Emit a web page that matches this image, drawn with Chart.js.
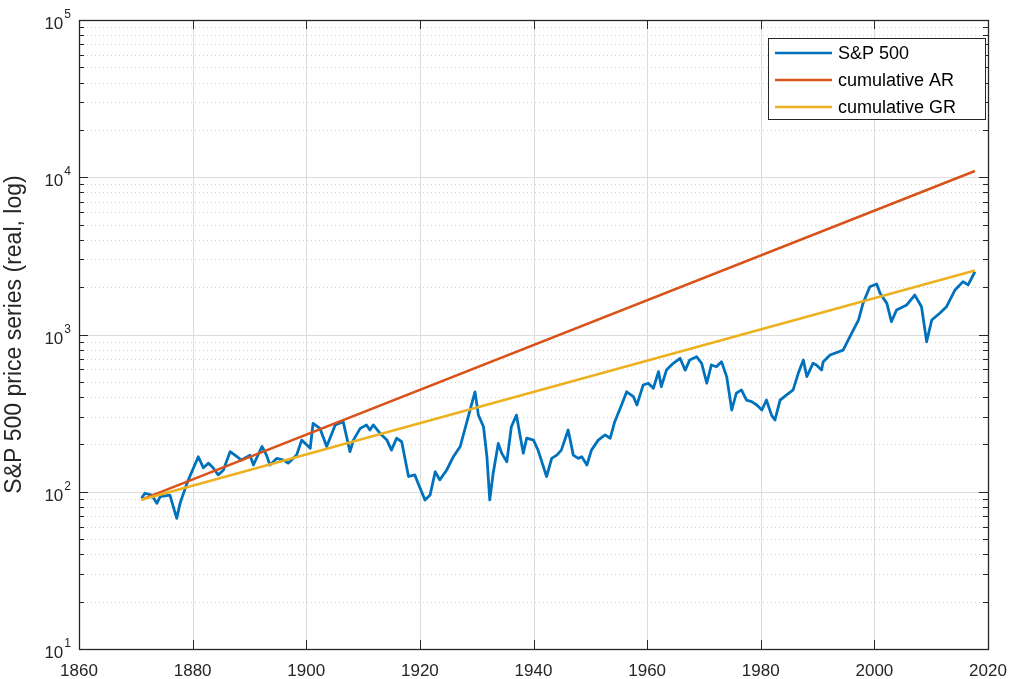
<!DOCTYPE html>
<html>
<head>
<meta charset="utf-8">
<script src="https://cdn.jsdelivr.net/npm/chart.js@4/dist/chart.umd.min.js"></script>
<style>
  body { margin: 0; background: #fff; }
  #wrap { width: 1009px; height: 679px; }
</style>
</head>
<body>
<div id="wrap"><canvas id="spChart"></canvas></div>
<script>
// S&P 500 real price index
const years = [1871.0,1871.6,1872.8,1873.7,1874.3,1876.0,1877.2,1877.8,1879.0,1879.5,
  1881.0,1881.9,1882.8,1883.6,1884.5,1885.4,1886.6,1887.8,1888.6,1890.1,
  1890.7,1892.2,1893.0,1893.6,1894.8,1896.0,1896.8,1898.3,1899.2,1900.7,
  1901.2,1902.4,1903.6,1905.1,1906.5,1907.7,1908.3,1909.5,1910.6,1911.2,
  1911.8,1913.0,1914.2,1915.0,1915.9,1916.8,1918.0,1919.1,1919.7,1920.9,
  1921.8,1922.7,1923.5,1924.7,1925.9,1927.1,1928.2,1929.7,1930.3,1931.2,
  1931.8,1932.3,1932.9,1933.8,1934.4,1935.3,1936.1,1937.0,1938.2,1938.8,
  1940.0,1940.8,1942.3,1943.2,1944.1,1944.9,1946.1,1946.7,1947.0,1947.9,
  1948.5,1949.4,1950.2,1951.4,1952.6,1953.5,1954.3,1955.5,1956.4,1957.6,
  1958.2,1959.3,1960.2,1961.1,1962.0,1962.5,1963.4,1964.6,1965.8,1966.7,
  1967.5,1968.7,1969.6,1970.5,1971.3,1972.2,1973.1,1974.0,1974.9,1975.7,
  1976.6,1977.5,1978.4,1979.3,1980.2,1981.0,1981.9,1982.5,1983.4,1984.5,
  1985.7,1986.6,1987.5,1988.1,1989.2,1989.8,1990.7,1991.0,1992.2,1994.5,
  1995.7,1997.2,1998.0,1999.2,2000.4,2001.0,2002.2,2003.0,2003.9,2005.7,
  2007.1,2008.3,2009.2,2010.1,2011.5,2012.7,2014.2,2015.6,2016.5,2017.7];
const spx = [90.8,97.8,95.3,84.5,93.1,95.3,67.7,84.7,113,125,
  167,142,152,142,128,137,180,167,159,171,
  148,194,171,148,163,159,152,171,213,189,
  272,253,194,266,279,180,213,253,266,247,
  266,235,213,184,219,208,125,128,113,88.7,
  95.3,134,119,137,167,194,272,432,307,259,
  167,88.7,131,203,176,155,259,307,176,219,
  213,184,125,163,171,184,247,194,171,163,
  167,148,184,213,230,219,279,356,432,402,
  356,477,490,455,581,466,594,656,706,594,
  689,723,656,490,640,624,672,540,331,423,
  444,383,374,356,331,383,307,286,383,412,
  444,566,689,540,656,640,594,672,741,796,
  968,1236,1578,2014,2094,1828,1578,1205,1432,1542,
  1782,1503,900,1236,1365,1503,1919,2168,2066,2506];

// cumulative return lines (start / end)
const fitYears = [1871.0, 2017.7];
const arValues = [89, 10960];
const grValues = [89, 2550];

// axes
const xTicks = [1860, 1880, 1900, 1920, 1940, 1960, 1980, 2000, 2020];
const yTicks = [10, 100, 1000, 10000, 100000];
const yExponents = ['1', '2', '3', '4', '5'];
const seriesNames = ['S&P 500', 'cumulative AR', 'cumulative GR'];
const seriesColors = ['#0072BD', '#D95319', '#EDB120'];

const axisColor = '#262626';
const fontName = '"Liberation Sans", Arial, sans-serif';

function toPoints(xs, ys) {
  return xs.map((x, i) => ({ x: x, y: ys[i] }));
}

const matlabFrame = {
  id: 'matlabFrame',
  beforeDatasetsDraw(chart) {
    const { ctx, chartArea: a, scales: { x, y } } = chart;
    ctx.save();
    ctx.lineWidth = 1;
    // major grid
    ctx.strokeStyle = '#dcdcdc';
    xTicks.forEach(v => {
      const px = Math.round(x.getPixelForValue(v)) + 0.5;
      ctx.beginPath(); ctx.moveTo(px, a.top); ctx.lineTo(px, a.bottom); ctx.stroke();
    });
    yTicks.forEach(v => {
      const py = Math.round(y.getPixelForValue(v)) + 0.5;
      ctx.beginPath(); ctx.moveTo(a.left, py); ctx.lineTo(a.right, py); ctx.stroke();
    });
    // minor grid, dotted
    ctx.strokeStyle = '#d2d2d2';
    ctx.setLineDash([1, 3]);
    yTicks.slice(0, -1).forEach(d => {
      for (let m = 2; m <= 9; m++) {
        const py = Math.round(y.getPixelForValue(d * m)) + 0.5;
        ctx.beginPath(); ctx.moveTo(a.left, py); ctx.lineTo(a.right, py); ctx.stroke();
      }
    });
    ctx.restore();
  },
  afterDatasetsDraw(chart) {
    const { ctx, chartArea: a, scales: { x, y } } = chart;
    ctx.save();
    ctx.strokeStyle = axisColor;
    ctx.fillStyle = axisColor;
    ctx.lineWidth = 1;
    // inward ticks on all four sides
    ctx.beginPath();
    xTicks.forEach(v => {
      const px = Math.round(x.getPixelForValue(v)) + 0.5;
      ctx.moveTo(px, a.bottom); ctx.lineTo(px, a.bottom - 9);
      ctx.moveTo(px, a.top); ctx.lineTo(px, a.top + 9);
    });
    yTicks.forEach((d, i) => {
      const py = Math.round(y.getPixelForValue(d)) + 0.5;
      ctx.moveTo(a.left, py); ctx.lineTo(a.left + 9, py);
      ctx.moveTo(a.right, py); ctx.lineTo(a.right - 9, py);
      if (i < yTicks.length - 1) {
        for (let m = 2; m <= 9; m++) {
          const pm = Math.round(y.getPixelForValue(d * m)) + 0.5;
          ctx.moveTo(a.left, pm); ctx.lineTo(a.left + 5, pm);
          ctx.moveTo(a.right, pm); ctx.lineTo(a.right - 5, pm);
        }
      }
    });
    ctx.stroke();
    // box
    ctx.lineWidth = 1.3;
    ctx.strokeRect(Math.round(a.left) + 0.5, Math.round(a.top) + 0.5,
      Math.round(a.right - a.left), Math.round(a.bottom - a.top));

    // x tick labels
    ctx.font = '17px ' + fontName;
    ctx.textAlign = 'center';
    ctx.textBaseline = 'alphabetic';
    xTicks.forEach(v => {
      ctx.fillText(String(v), x.getPixelForValue(v), a.bottom + 27);
    });
    // y tick labels: 10 with superscript exponent
    yTicks.forEach((d, i) => {
      const py = y.getPixelForValue(d);
      ctx.font = '12px ' + fontName;
      ctx.textAlign = 'left';
      const supW = ctx.measureText(yExponents[i]).width;
      const supX = a.left - 8 - supW;
      ctx.fillText(yExponents[i], supX, py - 2);
      ctx.font = '17px ' + fontName;
      ctx.textAlign = 'right';
      ctx.fillText('10', supX - 1, py + 9);
    });
    // y axis title
    ctx.save();
    ctx.translate(15, (a.top + a.bottom) / 2);
    ctx.rotate(-Math.PI / 2);
    ctx.font = '23px ' + fontName;
    ctx.textAlign = 'center';
    ctx.textBaseline = 'middle';
    ctx.fillText('S&P 500 price series (real, log)', 0, 0);
    ctx.restore();

    // legend box, top right inside the axes
    const lx = 768, ly = 38, lw = 217, lh = 81;
    ctx.fillStyle = '#fff';
    ctx.fillRect(lx, ly, lw, lh);
    ctx.strokeStyle = axisColor;
    ctx.lineWidth = 1;
    ctx.strokeRect(lx + 0.5, ly + 0.5, lw, lh);
    ctx.font = '18px ' + fontName;
    ctx.textAlign = 'left';
    ctx.textBaseline = 'middle';
    seriesNames.forEach((name, i) => {
      const ry = ly + 15 + i * 27;
      ctx.strokeStyle = seriesColors[i];
      ctx.lineWidth = 2.5;
      ctx.beginPath(); ctx.moveTo(lx + 7, ry); ctx.lineTo(lx + 64, ry); ctx.stroke();
      ctx.fillStyle = '#000';
      ctx.fillText(name, lx + 70, ry + 1);
    });
    ctx.restore();
  }
};

new Chart(document.getElementById('spChart'), {
  type: 'line',
  data: {
    datasets: [
      {
        label: seriesNames[0],
        data: toPoints(years, spx),
        borderColor: seriesColors[0],
        borderWidth: 2.8,
        order: 2
      },
      {
        label: seriesNames[1],
        data: toPoints(fitYears, arValues),
        borderColor: seriesColors[1],
        borderWidth: 2.5,
        order: 1
      },
      {
        label: seriesNames[2],
        data: toPoints(fitYears, grValues),
        borderColor: seriesColors[2],
        borderWidth: 2.5,
        order: 0
      }
    ]
  },
  options: {
    responsive: true,
    maintainAspectRatio: false,
    animation: false,
    devicePixelRatio: 1,
    layout: { padding: { left: 79, top: 20, right: 21, bottom: 30 } },
    elements: {
      point: { radius: 0 },
      line: { tension: 0, borderJoinStyle: 'round', fill: false }
    },
    plugins: {
      legend: { display: false },
      tooltip: { enabled: false }
    },
    scales: {
      x: { type: 'linear', min: 1860, max: 2020, display: false },
      y: { type: 'logarithmic', min: 10, max: 100000, display: false }
    }
  },
  plugins: [matlabFrame]
});
</script>
</body>
</html>
